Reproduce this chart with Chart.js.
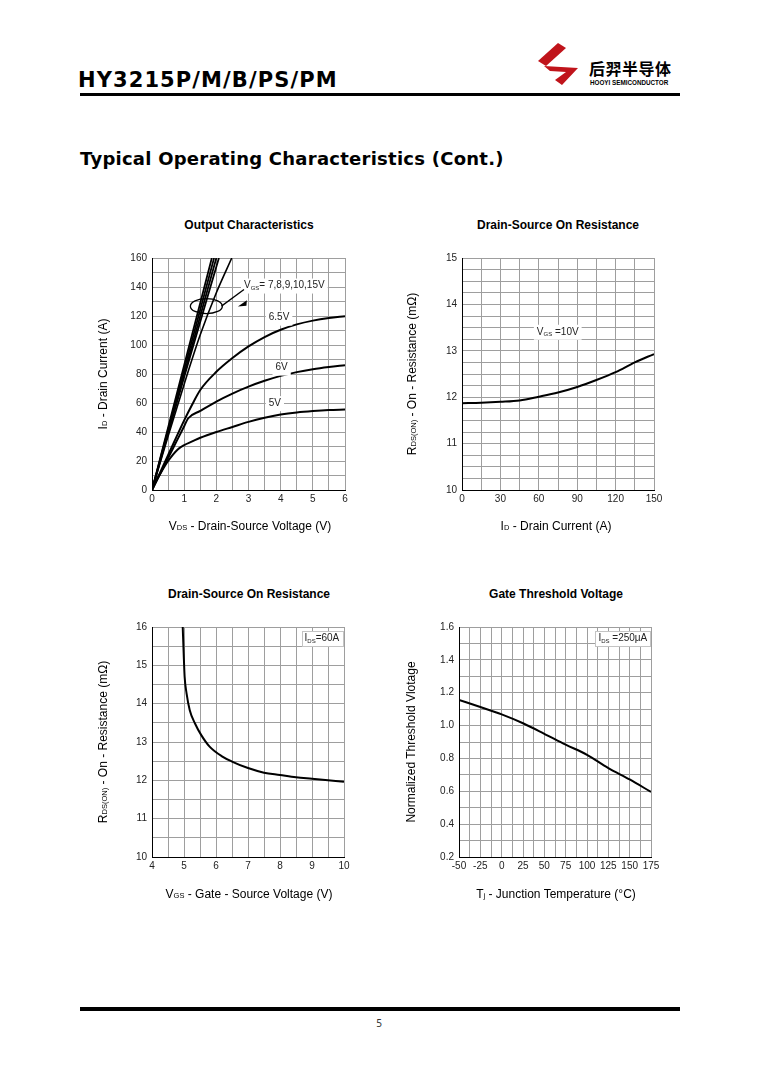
<!DOCTYPE html>
<html lang="en">
<head>
<meta charset="UTF-8">
<title>HY3215P/M/B/PS/PM - Typical Operating Characteristics</title>
<script src="https://cdn.jsdelivr.net/npm/chart.js"></script>
<style>
  body { margin: 0; background: #fff; color: #000; font-family: 'Liberation Sans', Arial, sans-serif; }
  #page { position: relative; width: 758px; height: 1079px; overflow: hidden; }
  .abs { position: absolute; }
  .part { left: 78px; top: 70px; font: bold 21px/21px 'DejaVu Sans', sans-serif; letter-spacing: 1.1px; white-space: nowrap; }
  .rule { left: 80px; width: 600px; background: #000; }
  .heading { left: 80px; top: 150px; font: bold 18px/18px 'DejaVu Sans', sans-serif; letter-spacing: 0.25px; white-space: nowrap; }
  .cn { left: 589px; top: 59px; font: bold 16px/18px 'Noto Sans CJK SC', sans-serif; letter-spacing: 0.5px; white-space: nowrap; }
  .en { left: 590px; top: 79px; font: bold 6.3px/7px 'Liberation Sans', sans-serif; white-space: nowrap; }
  .box { position: absolute; width: 270px; height: 330px; }
  .ctitle, .xtitle, .ytitle { position: absolute; width: 300px; height: 14px; line-height: 14px; text-align: center; font-size: 12px; white-space: nowrap; }
  .ctitle { font-weight: bold; }
  .ytitle { transform: rotate(-90deg); }
  .s { font-size: 7.5px; }
  .pno { left: 369px; top: 1016px; width: 20px; text-align: center; font: 10px 'Noto Sans', sans-serif; color: #333; }
</style>
</head>
<body>
<div id="page">
  <!-- page header -->
  <div class="abs part">HY3215P/M/B/PS/PM</div>
  <svg class="abs" style="left:530px;top:38px" width="60" height="52">
    <polygon points="28,5 36,10 16,28 8,23" fill="#c0141b"/>
    <polygon points="14,28 48,30 32,47 25,42 36,34 20,33" fill="#c0141b"/>
  </svg>
  <div class="abs cn">后羿半导体</div>
  <div class="abs en">HOOYI SEMICONDUCTOR</div>
  <div class="abs rule" style="top:93px;height:3px"></div>
  <div class="abs heading">Typical Operating Characteristics (Cont.)</div>

  <!-- chart 1 -->
  <div class="ctitle" style="left:99px;top:218px">Output Characteristics</div>
  <div class="box" style="left:90px;top:210px"><canvas id="c1" width="270" height="330"></canvas></div>
  <div class="xtitle" style="left:100px;top:519px">V<span class="s">DS</span> - Drain-Source Voltage (V)</div>
  <div class="ytitle" style="left:-47px;top:367px">I<span class="s">D</span> - Drain Current (A)</div>

  <!-- chart 2 -->
  <div class="ctitle" style="left:408px;top:218px">Drain-Source On Resistance</div>
  <div class="box" style="left:400px;top:210px"><canvas id="c2" width="270" height="330"></canvas></div>
  <div class="xtitle" style="left:406px;top:519px">I<span class="s">D</span> - Drain Current (A)</div>
  <div class="ytitle" style="left:262px;top:367px">R<span class="s">DS(ON)</span> - On - Resistance (mΩ)</div>

  <!-- chart 3 -->
  <div class="ctitle" style="left:99px;top:587px">Drain-Source On Resistance</div>
  <div class="box" style="left:90px;top:580px"><canvas id="c3" width="270" height="330"></canvas></div>
  <div class="xtitle" style="left:99px;top:887px">V<span class="s">GS</span> - Gate - Source Voltage (V)</div>
  <div class="ytitle" style="left:-47px;top:735px">R<span class="s">DS(ON)</span> - On - Resistance (mΩ)</div>

  <!-- chart 4 -->
  <div class="ctitle" style="left:406px;top:587px">Gate Threshold Voltage</div>
  <div class="box" style="left:400px;top:580px"><canvas id="c4" width="270" height="330"></canvas></div>
  <div class="xtitle" style="left:406px;top:887px">T<span class="s">j</span> - Junction Temperature (°C)</div>
  <div class="ytitle" style="left:261px;top:735px">Normalized Threshold Vlotage</div>

  <!-- footer -->
  <div class="abs rule" style="top:1007px;height:4px"></div>
  <div class="abs pno">5</div>
</div>

<script>
// ---- Output characteristics (ID vs VDS), one pair of arrays per VGS curve
const vds5 = [0, 0.1, 0.25, 0.5, 0.8, 1, 1.25, 1.5, 2, 2.5, 3, 3.5, 4, 4.5, 5, 5.5, 6];
const id5  = [0, 5, 11, 20, 28, 31, 33.5, 36, 40, 43.5, 47, 49.8, 52, 53.5, 54.5, 55.2, 55.5];
const vds6 = [0, 0.25, 0.5, 0.75, 1, 1.12, 1.5, 2, 2.5, 3, 3.5, 4, 4.5, 5, 5.5, 6];
const id6  = [0, 11, 22, 33, 44, 49.3, 54.5, 61, 66.5, 71.3, 75.3, 78.7, 81.3, 83.3, 84.8, 86];
const vds65 = [0, 0.5, 1, 1.25, 1.5, 2, 2.5, 3, 3.5, 4, 4.5, 5, 5.5, 6];
const id65  = [0, 24, 48, 59, 69, 81.5, 91, 99, 105.5, 110.5, 114.2, 116.8, 118.6, 119.8];
const vds7 = [0, 0.5, 1, 1.5, 2, 2.48];
const id7  = [0, 37, 73, 107, 136, 160];
const vds8 = [0, 1, 2.08];
const id8  = [0, 78, 160];
const vds9 = [0, 1, 2.0];
const id9  = [0, 80, 160];
const vds10 = [0, 1, 1.93];
const id10  = [0, 83, 160];
const vds15 = [0, 1, 1.86];
const id15  = [0, 86, 160];
const outTicksX = [0, 1, 2, 3, 4, 5, 6];
const outTicksY = [0, 20, 40, 60, 80, 100, 120, 140, 160];

// ---- RDS(ON) vs ID at VGS = 10V
const idCur = [0, 15, 30, 45, 60, 75, 90, 105, 120, 135, 150];
const rdsId = [11.87, 11.88, 11.9, 11.93, 12.01, 12.1, 12.22, 12.37, 12.54, 12.75, 12.93];
const curTicksX = [0, 30, 60, 90, 120, 150];
const curTicksY = [10, 11, 12, 13, 14, 15];

// ---- RDS(ON) vs VGS at IDS = 60A
const vgs = [4.96, 4.99, 5.02, 5.08, 5.18, 5.34, 5.54, 5.8, 6.2, 6.5, 7, 7.5, 8, 8.5, 9, 9.5, 10];
const rdsVgs = [16.0, 15.3, 14.7, 14.27, 13.83, 13.49, 13.18, 12.88, 12.62, 12.49, 12.32, 12.2, 12.14, 12.08, 12.04, 12.0, 11.96];
const vgsTicksX = [4, 5, 6, 7, 8, 9, 10];
const vgsTicksY = [10, 11, 12, 13, 14, 15, 16];

// ---- Normalized threshold voltage vs Tj
const tj = [-50, -25, 0, 25, 50, 75, 100, 125, 150, 175];
const vthNorm = [1.156, 1.113, 1.068, 1.014, 0.95, 0.884, 0.822, 0.741, 0.672, 0.596];
const tjTicks = [-50, -25, 0, 25, 50, 75, 100, 125, 150, 175];
const vthTicks = [0.2, 0.4, 0.6, 0.8, 1.0, 1.2, 1.4, 1.6];

Chart.defaults.font.family = "'Liberation Sans', Arial, sans-serif";
Chart.defaults.font.size = 10;
Chart.defaults.color = '#222';
Chart.defaults.animation = false;

const GRID = '#9e9e9e';

// linear axis with minor grid lines every `step` and labels only at `labels`
function axis(min, max, step, labels, digits, fit, horizontal) {
  return {
    type: 'linear', min: min, max: max,
    ticks: {
      stepSize: step, autoSkip: false, maxRotation: 0, padding: horizontal ? 3 : 5,
      callback: v => labels.some(l => Math.abs(l - v) < step / 10) ? v.toFixed(digits) : ''
    },
    grid: { color: GRID, lineWidth: 1, drawTicks: false },
    border: { color: '#000', width: 1 },
    afterFit: s => { if (horizontal) s.height = fit; else s.width = fit; }
  };
}

function curve(xs, ys, w) {
  return {
    data: xs.map((x, i) => ({ x: x, y: ys[i] })),
    borderColor: '#000', borderWidth: w, pointRadius: 0,
    cubicInterpolationMode: 'monotone', fill: false
  };
}

// text with a small lowered subscript part, optionally on a white box
function note(ctx, px, py, parts, opt) {
  ctx.save();
  let w = 0;
  parts.forEach(p => { ctx.font = p[1] + "px 'Liberation Sans', Arial"; w += ctx.measureText(p[0]).width; });
  const x0 = opt.left ? px : px - w / 2;
  if (opt.bg) {
    ctx.fillStyle = '#fff';
    ctx.fillRect(x0 - 3, py - 7, w + 6, 15);
    if (opt.frame) {
      ctx.strokeStyle = '#c4c4c4';
      ctx.lineWidth = 1;
      ctx.strokeRect(Math.round(x0 - 3) + 0.5, Math.round(py - 7) + 0.5, Math.round(w + 6), 15);
    }
  }
  ctx.fillStyle = '#222';
  ctx.textBaseline = 'middle';
  let x = x0;
  parts.forEach(p => {
    ctx.font = p[1] + "px 'Liberation Sans', Arial";
    ctx.fillText(p[0], x, py + p[2]);
    x += ctx.measureText(p[0]).width;
  });
  ctx.restore();
}

function notesPlugin(draw) {
  return { id: 'notes', afterDatasetsDraw: chart => draw(chart.ctx, chart.scales.x, chart.scales.y) };
}

function makeChart(id, datasets, xAxis, yAxis, pad, plugin) {
  return new Chart(document.getElementById(id), {
    type: 'line',
    data: { datasets: datasets },
    options: {
      responsive: false,
      layout: { padding: pad },
      plugins: { legend: { display: false }, tooltip: { enabled: false } },
      scales: { x: xAxis, y: yAxis }
    },
    plugins: [plugin]
  });
}

// Chart 1: output characteristics
makeChart('c1',
  [curve(vds15, id15, 1.8), curve(vds10, id10, 1.8), curve(vds9, id9, 1.8), curve(vds8, id8, 1.8),
   curve(vds7, id7, 1.6), curve(vds65, id65, 2), curve(vds6, id6, 2), curve(vds5, id5, 2)],
  axis(0, 6, 0.5, outTicksX, 0, 50, true),
  axis(0, 160, 10, outTicksY, 0, 62, false),
  { top: 48, right: 15 },
  notesPlugin((ctx, x, y) => {
    note(ctx, x.getPixelForValue(3.95), y.getPixelForValue(118.9), [['6.5V', 10, 0]], { bg: true });
    note(ctx, x.getPixelForValue(4.03), y.getPixelForValue(84.4), [['6V', 10, 0]], { bg: true });
    note(ctx, x.getPixelForValue(3.82), y.getPixelForValue(59.9), [['5V', 10, 0]], { bg: true });
    note(ctx, x.getPixelForValue(2.86), y.getPixelForValue(141), [['V', 10, 0], ['GS', 6, 3], ['= 7,8,9,10,15V', 10, 0]], { bg: true, left: true });
    ctx.save();
    ctx.strokeStyle = '#000';
    ctx.lineWidth = 1.3;
    ctx.beginPath();
    ctx.ellipse(x.getPixelForValue(1.69), y.getPixelForValue(126.8), 16, 7.5, 0, 0, Math.PI * 2);
    ctx.stroke();
    ctx.beginPath();
    ctx.moveTo(x.getPixelForValue(2.16), y.getPixelForValue(126.8));
    ctx.lineTo(x.getPixelForValue(2.86), y.getPixelForValue(138.3));
    ctx.stroke();
    ctx.fillStyle = '#000';
    ctx.beginPath();
    ctx.moveTo(x.getPixelForValue(2.67), y.getPixelForValue(126.6));
    ctx.lineTo(x.getPixelForValue(2.95), y.getPixelForValue(130.8));
    ctx.lineTo(x.getPixelForValue(2.935), y.getPixelForValue(127.0));
    ctx.closePath();
    ctx.fill();
    ctx.restore();
  }));

// Chart 2: RDS(ON) vs drain current
makeChart('c2',
  [curve(idCur, rdsId, 2)],
  axis(0, 150, 15, curTicksX, 0, 50, true),
  axis(10, 15, 0.25, curTicksY, 0, 62, false),
  { top: 48, right: 16 },
  notesPlugin((ctx, x, y) => {
    note(ctx, x.getPixelForValue(74.8), y.getPixelForValue(13.41), [['V', 10, 0], ['GS', 6, 3], [' =10V', 10, 0]], { bg: true });
  }));

// Chart 3: RDS(ON) vs gate voltage
makeChart('c3',
  [curve(vgs, rdsVgs, 2)],
  axis(4, 10, 0.5, vgsTicksX, 0, 53, true),
  axis(10, 16, 0.5, vgsTicksY, 0, 62, false),
  { top: 47, right: 16 },
  notesPlugin((ctx, x, y) => {
    note(ctx, x.getPixelForValue(9.31), y.getPixelForValue(15.71), [['I', 10, 0], ['DS', 6, 3], ['=60A', 10, 0]], { bg: true, frame: true });
  }));

// Chart 4: gate threshold voltage vs temperature
makeChart('c4',
  [curve(tj, vthNorm, 2)],
  axis(-50, 175, 12.5, tjTicks, 0, 53, true),
  axis(0.2, 1.6, 0.1, vthTicks, 1, 59, false),
  { top: 47, right: 19 },
  notesPlugin((ctx, x, y) => {
    note(ctx, x.getPixelForValue(142), y.getPixelForValue(1.531), [['I', 10, 0], ['DS', 6, 3], [' =250μA', 10, 0]], { bg: true, frame: true });
  }));
</script>
</body>
</html>
